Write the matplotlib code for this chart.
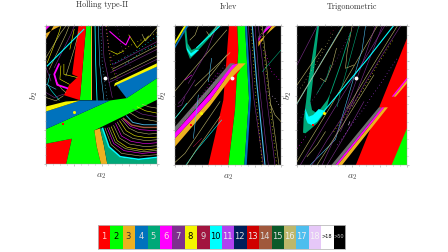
import matplotlib
matplotlib.use('Agg')
import matplotlib.pyplot as plt
from matplotlib.colors import ListedColormap
from matplotlib.ticker import MultipleLocator
import numpy as np

plt.rcParams['mathtext.fontset'] = 'cm'

# period colours, 1..18, >18, >50
colors = ['#ff0000', '#00ff00', '#edb120', '#0072bd', '#00a878', '#ff00ff', '#7e2f8e',
          '#f5f500', '#a2143f', '#00ffff', '#b040f0', '#001f5b', '#d00000', '#a0583c',
          '#0b5a2a', '#bdb76b', '#4dbeee', '#e6c8f8', '#ffffff', '#000000']
bar_labels = ['1', '2', '3', '4', '5', '6', '7', '8', '9', '10', '11', '12', '13', '14',
              '15', '16', '17', '18', '>18', '>50']
bar_text = ['#ffcccc', 'black', '#333333', '#dddddd', '#dddddd', '#ffdddd', '#dddddd', 'black', '#dddddd', 'black',
            '#eeeeee', '#dddddd', '#eeeeee', '#dddddd', '#dddddd', '#eeeeee', '#eeeeee', '#f5f5f5', 'black', '#cccccc']
P = dict(zip(bar_labels, colors))
P['mix'] = '#6e6e6e'  # bands of very fine stripes read as grey

titles = ['Holling type-II', 'Ivlev', 'Trigonometric']
ylabels = ['$b_2$', '$b_2$', '$b_2$']
xlabels = ['$a_2$', '$a_2$', '$a_2$']

# parameter plane regions (width/height in read units)
size1 = (335, 415)
regions1 = [
    ('1', [(0, 61), (78, 76), (61, 0), (0, 0)]),
    ('2', [(0, 61), (0, 105), (193, 191), (243, 198), (335, 258), (335, 193), (146, 101), (153, 53), (166, 0),
           (61, 0), (78, 76)]),
    ('2', [(102, 192), (121, 415), (135, 415), (138, 192)]),
    ('4', [(0, 105), (0, 158), (103, 191), (193, 191)]),
    ('4', [(208, 243), (243, 198), (335, 258), (335, 293)]),
    ('8', [(0, 158), (0, 173), (60, 188), (103, 191)]),
    ('8', [(205, 233), (208, 243), (335, 303), (335, 293), (213, 238)]),
    ('1', [(98, 415), (121, 415), (102, 192), (54, 207), (70, 238), (96, 262), (79, 270)]),
    ('3', [(135, 415), (140, 415), (140, 192), (136, 192)]),
    ('3', [(146, 101), (163, 107), (175, 55), (185, 0), (166, 0), (153, 53)]),
    ('5', [(163, 107), (175, 55), (185, 0), (335, 0), (335, 18), (279, 12), (224, 20), (190, 50), (170, 107)]),
    ('3', [(0, 375), (0, 393), (43, 415), (23, 415)]),
    ('6', [(0, 403), (0, 415), (13, 415)]),
]
thick1 = [
    ('10', [(171, 107), (190, 52), (224, 22), (279, 14), (335, 20)], 1.1),
    ('6', [(39, 300), (25, 270), (34, 238), (64, 228)], 1.3),
    ('10', [(4, 295), (69, 360), (114, 405)], 0.8),
    ('6', [(193, 398), (225, 370), (241, 358), (253, 383)], 0.8),
    ('14', [(234, 137), (259, 117), (295, 110), (335, 110)], 1.0),
    ('17', [(243, 145), (262, 125), (295, 118), (335, 118)], 0.6),
    ('10', [(148, 415), (150, 300), (154, 192)], 0.6),
]
curves1 = [
    ('16', [(178, 108), (197, 58), (228, 32), (285, 24), (335, 28)]),
    ('6', [(185, 108), (204, 62), (236, 40), (290, 32), (335, 36)]),
    ('16', [(190, 110), (209, 66), (240, 46), (292, 37), (335, 41)]),
    ('8', [(197, 112), (215, 70), (245, 50), (295, 42), (335, 46)]),
    ('16', [(204, 116), (222, 78), (252, 60), (300, 52), (335, 55)]),
    ('6', [(210, 122), (228, 84), (257, 68), (300, 61), (335, 64)]),
    ('16', [(215, 126), (235, 92), (262, 77), (302, 70), (335, 73)]),
    ('8', [(222, 130), (242, 100), (268, 85), (305, 79), (335, 81)]),
    ('16', [(228, 134), (250, 108), (275, 96), (310, 90), (335, 92)]),
    ('6', [(232, 136), (255, 113), (285, 103), (335, 100)]),
    ('16', [(252, 155), (280, 138), (335, 128)]),
    ('7', [(262, 165), (290, 150), (335, 142)]),
    ('8', [(275, 172), (300, 160), (335, 153)]),
    ('16', [(290, 180), (310, 172), (335, 168)]),
    ('17', [(158, 415), (162, 300), (175, 192)]),
    ('7', [(170, 415), (175, 320), (200, 200)]),
    ('7', [(190, 245), (335, 315)]),
    ('16', [(195, 255), (335, 325)]),
    ('7', [(195, 275), (335, 345)]),
    ('16', [(200, 285), (335, 355)]),
    ('7', [(205, 300), (335, 368)]),
    ('16', [(290, 390), (300, 370), (335, 410)]),
    ('8', [(250, 388), (275, 350), (310, 385)]),
    ('8', [(195, 340), (215, 330), (235, 340)]),
    ('10', [(12, 270), (5, 240), (15, 222), (40, 192)]),
    ('8', [(54, 300), (54, 270), (94, 260)]),
    ('8', [(4, 305), (39, 395), (45, 415)]),
    ('16', [(10, 285), (60, 390), (70, 415)]),
    ('16', [(0, 320), (45, 395), (60, 415)]),
    ('7', [(25, 290), (75, 390), (85, 415)]),
    ('16', [(60, 265), (85, 345), (100, 400)]),
    ('16', [(30, 250), (48, 225), (60, 215)]),
    ('8', [(45, 295), (42, 255), (70, 240)]),
    ('7', [(0, 215), (25, 200), (53, 210)]),
    ('16', [(0, 200), (30, 190), (52, 205)]),
    ('17', [(0, 240), (30, 225)]),
    ('7', [(0, 290), (15, 250)]),
    ('8', [(72, 345), (85, 405)]),
]
dots1 = [
    ('10', [(200, 300), (265, 335), (335, 385)]),
    ('8', [(195, 320), (270, 365), (335, 395)]),
    ('6', [(180, 415), (190, 340), (215, 260)]),
    ('17', [(165, 415), (170, 300), (185, 192)]),
    ('8', [(182, 415), (195, 300), (225, 225)]),
    ('10', [(240, 300), (290, 340), (335, 360)]),
    ('7', [(215, 415), (230, 340), (260, 285)]),
]
white1, yellow1, red1 = (179, 260), (83, 156), (50, 119)

size2 = (318, 417)
regions2 = [
    ('1', [(162, 417), (187, 417), (190, 345), (180, 165), (160, 0), (100, 0), (145, 195)]),
    ('2', [(187, 417), (210, 417), (222, 200), (208, 0), (160, 0), (180, 165), (190, 345)]),
    ('4', [(210, 417), (216, 417), (228, 200), (215, 0), (208, 0), (222, 200)]),
    ('1', [(155, 300), (195, 285), (175, 255), (160, 260)]),
    ('mix', [(0, 97), (0, 115), (165, 305), (180, 305)]),
    ('3', [(0, 55), (0, 80), (105, 195), (170, 285), (190, 305), (212, 305), (165, 257), (105, 177)]),
    ('6', [(0, 80), (0, 97), (105, 215), (172, 300), (190, 305), (170, 285), (105, 195)]),
    ('3', [(250, 355), (250, 370), (303, 417), (290, 417)]),
    ('6', [(250, 370), (250, 380), (290, 417), (275, 417)]),
    ('mix', [(250, 380), (250, 385), (280, 417), (275, 417)]),
    ('5', [(27, 417), (33, 350), (45, 318), (62, 335), (135, 417), (124, 417), (65, 352), (50, 345), (38, 365), (33, 417)]),
    ('10', [(34, 372), (37, 350), (48, 335), (62, 345), (72, 345), (60, 335), (48, 325), (36, 345)]),
    ('4', [(0, 358), (33, 417), (40, 417), (0, 350)]),
    ('8', [(0, 372), (27, 417), (33, 417), (0, 362)]),
]
thick2 = [
    ('10', [(65, 352), (135, 417)], 0.7),
    ('17', [(232, 417), (245, 250), (270, 0)], 0.8),
]
curves2 = [
    ('10', [(33, 0), (65, 45), (140, 135)]),
    ('16', [(0, 8), (30, 35), (135, 190)]),
    ('16', [(0, 222), (155, 405)]),
    ('16', [(0, 140), (100, 260), (155, 330)]),
    ('16', [(60, 237), (165, 337)]),
    ('10', [(0, 140), (20, 165), (35, 185)]),
    ('7', [(10, 185), (20, 195), (35, 215), (60, 255)]),
    ('16', [(35, 0), (60, 40), (135, 145)]),
    ('7', [(40, 245), (95, 340), (125, 417)]),
    ('16', [(45, 375), (60, 390), (70, 417)]),
    ('16', [(95, 400), (105, 385), (125, 417)]),
    ('7', [(220, 417), (235, 210), (265, 0)]),
    ('7', [(250, 417), (275, 200), (300, 0)]),
    ('16', [(262, 417), (285, 200), (312, 0)]),
    ('7', [(240, 417), (255, 220), (280, 0)]),
    ('5', [(262, 280), (318, 345)]),
    ('16', [(285, 185), (300, 150), (318, 130)]),
    ('7', [(8, 175), (20, 180), (30, 205)]),
    ('9', [(55, 55), (65, 65), (80, 80)]),
    ('6', [(30, 255), (50, 270)]),
    ('17', [(100, 250), (110, 320)]),
    ('17', [(55, 80), (70, 210)]),
]
dots2 = [
    ('8', [(228, 417), (242, 210), (262, 0)]),
    ('8', [(258, 417), (282, 200), (305, 0)]),
    ('6', [(20, 120), (80, 210), (130, 280)]),
    ('11', [(60, 170), (110, 240), (150, 300)]),
    ('6', [(270, 340), (290, 280), (318, 250)]),
    ('18', [(275, 220), (300, 200), (318, 170)]),
]
white2, yellow2, red2 = (170, 262), (79, 157), (48, 119)

size3 = (329, 417)
regions3 = [
    ('1', [(329, 380), (176, 0), (329, 0)]),
    ('2', [(283, 0), (329, 110), (329, 0)]),
    ('mix', [(103, 0), (115, 0), (255, 173), (245, 173)]),
    ('6', [(115, 0), (122, 0), (262, 173), (255, 173)]),
    ('3', [(122, 0), (135, 0), (272, 173), (262, 173)]),
    ('3', [(295, 205), (329, 245), (329, 255), (288, 205)]),
    ('6', [(288, 205), (329, 255), (329, 262), (283, 205)]),
    ('5', [(18, 97), (20, 140), (27, 190), (32, 240), (60, 417), (66, 417), (46, 240), (40, 190), (45, 165),
           (60, 155), (90, 195), (100, 215), (90, 175), (78, 150), (60, 125), (40, 107), (25, 95)]),
    ('10', [(24, 170), (35, 145), (48, 150), (65, 168), (84, 162), (60, 130), (45, 120), (32, 125), (26, 140)]),
]
thick3 = [
    ('10', [(75, 155), (210, 317), (288, 417)], 0.8),
    ('16', [(0, 185), (138, 417)], 0.7),
    ('17', [(0, 183), (136, 417)], 0.3),
    ('5', [(100, 215), (130, 300), (160, 397)], 0.6),
]
curves3 = [
    ('16', [(0, 10), (30, 60), (100, 175), (240, 417)]),
    ('7', [(10, 0), (100, 150), (210, 330), (262, 417)]),
    ('17', [(40, 0), (115, 77), (195, 347), (205, 417)]),
    ('7', [(75, 0), (130, 120), (235, 417)]),
    ('7', [(130, 100), (175, 210), (255, 417)]),
    ('5', [(185, 417), (150, 290), (130, 220), (120, 175)]),
    ('16', [(165, 417), (150, 340), (145, 290), (170, 300)]),
    ('16', [(70, 260), (85, 250), (105, 300), (118, 350)]),
    ('7', [(0, 300), (60, 417)]),
    ('7', [(45, 0), (90, 75), (170, 195)]),
    ('16', [(0, 240), (75, 350)]),
    ('5', [(60, 215), (90, 265), (100, 300)]),
    ('7', [(165, 175), (200, 240), (270, 355), (310, 417)]),
    ('16', [(150, 170), (240, 320), (300, 417)]),
    ('16', [(30, 25), (60, 60), (85, 100)]),
    ('7', [(90, 0), (150, 100), (200, 190)]),
    ('16', [(60, 0), (130, 110), (230, 270)]),
    ('18', [(154, 120), (158, 130)]),
]
dots3 = [
    ('7', [(0, 125), (60, 215), (120, 320), (170, 417)]),
    ('16', [(10, 230), (60, 310), (110, 400)]),
    ('8', [(110, 100), (180, 200), (290, 380)]),
    ('11', [(120, 60), (200, 170), (300, 320)]),
    ('6', [(0, 50), (30, 90)]),
    ('9', [(100, 395), (115, 410)]),
]
white3, yellow3, red3 = (176, 262), (81, 157), (49, 120)

panels = [
    ([46, 157], [26, 164], size1, regions1, thick1, curves1, dots1, white1, yellow1, red1),
    ([175, 281], [26, 165], size2, regions2, thick2, curves2, dots2, white2, yellow2, red2),
    ([297, 407], [26, 165], size3, regions3, thick3, curves3, dots3, white3, yellow3, red3),
]
title_y = [5, 7, 7]
ylabel_gap = [6, 6, 3]

W, H = 448, 252
fig = plt.figure(figsize=(W / 100, H / 100), dpi=100)

for i, (px, py, size, regions, thick, curves, dots, white, yellow, red) in enumerate(panels):
    ax = fig.add_axes([px[0] / W, 1 - py[1] / H, (px[1] - px[0]) / W, (py[1] - py[0]) / H])
    ax.set_facecolor('black')
    for key, pts in curves:
        xs, ys = zip(*pts)
        ax.plot(xs, ys, color=P[key], lw=0.4)
    for key, pts in dots:
        xs, ys = zip(*pts)
        ax.plot(xs, ys, color=P[key], lw=0.5, ls=(0, (1, 4)))
    for key, pts in regions:
        xs, ys = zip(*pts)
        ax.fill(xs, ys, color=P[key], lw=0)
    for key, pts, w in thick:
        xs, ys = zip(*pts)
        ax.plot(xs, ys, color=P[key], lw=w)
    ax.plot(*white, 'o', color='white', ms=2.8, mew=0)
    ax.plot(*yellow, 'o', color=P['8'], ms=2.2, mew=0)
    ax.plot(*red, 's', color=P['1'], ms=2, mew=0)
    ax.set_xlim(0, size[0])
    ax.set_ylim(0, size[1])
    ax.xaxis.set_major_locator(MultipleLocator(size[0] / 4))
    ax.yaxis.set_major_locator(MultipleLocator(size[1] / 4))
    ax.xaxis.set_minor_locator(MultipleLocator(size[0] / 16))
    ax.yaxis.set_minor_locator(MultipleLocator(size[1] / 16))
    ax.tick_params(which='both', direction='out', top=True, right=True, labelbottom=False, labelleft=False,
                   color='#999999', width=0.4, length=1.3)
    ax.tick_params(which='minor', length=0.7)
    for s in ax.spines.values():
        s.set_linewidth(0.3)
        s.set_color('#999999')
    ax.set_xlabel(xlabels[i], fontsize=7, color='#444444', labelpad=3.5)
    ax.set_ylabel(ylabels[i], fontsize=7, color='#444444')
    ax.yaxis.set_label_coords(-ylabel_gap[i] / (px[1] - px[0]), 0.5)
    fig.text((px[0] + px[1]) / 2 / W, 1 - title_y[i] / H, titles[i], family='cmr10', fontsize=5.8, color='#333333',
             ha='center', va='center')

# period colour bar
cax = fig.add_axes([97.5 / W, 1 - 248.5 / H, 247.5 / W, 23.5 / H])
cax.imshow(np.arange(len(colors))[None, :], cmap=ListedColormap(colors), aspect='auto',
           extent=(0, len(colors), 0, 1), interpolation='nearest')
cax.set_xticks([])
cax.set_yticks([])
for s in cax.spines.values():
    s.set_linewidth(0.6)
    s.set_color('#bbbbbb')
for k, lab in enumerate(bar_labels):
    fs = 3.6 if lab.startswith('>') else 6
    cax.text(k + 0.5, 0.5, lab, color=bar_text[k], fontsize=fs, ha='center', va='center', family='DejaVu Sans')

fig.savefig('out.png', dpi=100)
